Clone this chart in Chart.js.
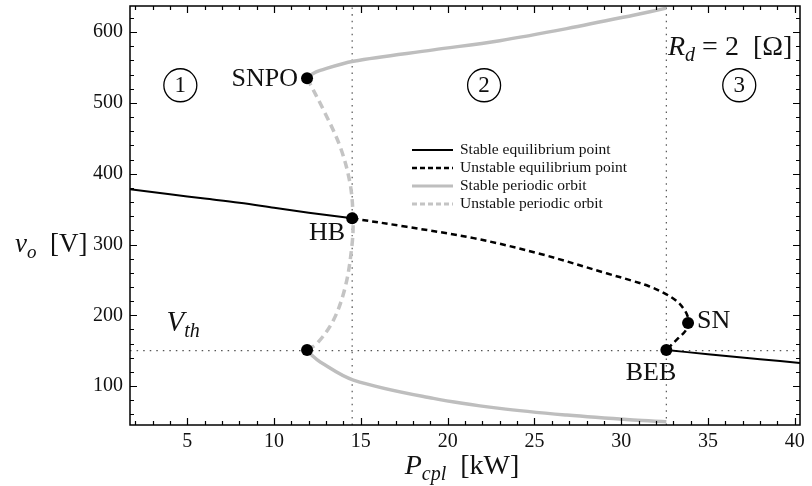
<!DOCTYPE html>
<html>
<head>
<meta charset="utf-8">
<script src="https://cdn.jsdelivr.net/npm/chart.js@4.4.1/dist/chart.umd.min.js"></script>
<style>
  html, body { margin: 0; padding: 0; background: #fff; }
  canvas { display: block; }
</style>
</head>
<body>
<canvas id="bif" width="812" height="486"></canvas>
<script>
// axis ranges and ticks
const xMin = 1.7, xMax = 40.3;
const yMin = 45, yMax = 637;
const xTicks = [5, 10, 15, 20, 25, 30, 35, 40];
const yTicks = [100, 200, 300, 400, 500, 600];

// stable equilibrium point (left and right branches)
const stableEqLeftP = [1.7, 4, 6, 8, 10, 12, 14.5];
const stableEqLeftV = [378, 371, 365, 359, 352, 345, 337];
const stableEqRightP = [32.6, 35, 38, 40.3];
const stableEqRightV = [151, 145, 138, 132.5];

// unstable equilibrium point
const unstableEqP = [14.5, 17.65, 21.5, 25.3, 29.2, 30.6, 31.6, 32.5, 33.2, 33.6, 33.82, 33.86, 33.7, 33.3, 32.6];
const unstableEqV = [337, 325, 309, 287, 259, 249, 241, 231, 220, 209, 199, 189, 178, 168, 151];

// stable periodic orbit (max / min of the orbit)
const stablePoUpperP = [11.9, 12.2, 12.66, 14.57, 19.18, 23.0, 26.86, 30.7, 32.6];
const stablePoUpperV = [535, 541, 546, 559, 575, 588, 605, 624, 634];
const stablePoLowerP = [11.9, 12.2, 12.66, 14.57, 19.18, 23.0, 26.86, 30.7, 32.6];
const stablePoLowerV = [151, 143, 134, 108.5, 82.6, 68.5, 59, 52, 49.6];

// unstable periodic orbit
const unstablePoP = [11.9, 12.85, 13.81, 14.38, 14.55, 14.48, 14.1, 13.42, 12.47, 11.9];
const unstablePoV = [535, 490, 438, 386, 337, 297, 240, 193, 160, 151];

// bifurcation points: SNPO, HB, lower SNPO, SN, BEB
const bifNames = ['SNPO', 'HB', '', 'SN', 'BEB'];
const bifP = [11.9, 14.5, 11.9, 33.85, 32.6];
const bifV = [535, 337, 151, 189, 151];

// reference lines
const hbP = 14.5, bebP = 32.6, vTh = 150;

// regions
const regionNames = ['1', '2', '3'];
const regionP = [4.6, 22.1, 36.8];
const regionV = [525, 525, 525];

const pts = (xs, ys) => xs.map((x, i) => ({ x, y: ys[i] }));
const serif = '"Liberation Serif", "DejaVu Serif", serif';
const ink = '#111';
const grayLine = '#bebebe';

const line = (label, xs, ys, color, width, dash, legend) => ({
  label, legend, data: pts(xs, ys), borderColor: color, borderWidth: width,
  borderDash: dash || [], pointRadius: 0, fill: false, tension: 0.35, showLine: true
});

const datasets = [
  { label: 'points', data: pts(bifP, bifV), showLine: false, pointRadius: 6,
    backgroundColor: '#000', borderWidth: 0, pointHoverRadius: 6 },
  line('Stable equilibrium point', stableEqLeftP, stableEqLeftV, '#000', 2, null, true),
  line('Stable equilibrium point', stableEqRightP, stableEqRightV, '#000', 2, null, false),
  line('Unstable equilibrium point', unstableEqP, unstableEqV, '#000', 2.5, [6, 4], true),
  line('Stable periodic orbit', stablePoUpperP, stablePoUpperV, grayLine, 3.5, null, true),
  line('Stable periodic orbit', stablePoLowerP, stablePoLowerV, grayLine, 3.5, null, false),
  line('Unstable periodic orbit', unstablePoP, unstablePoV, '#c4c4c4', 3.5, [8, 5], true),
  line('HB line', [hbP, hbP], [yMin, yMax], '#555', 1.2, [1.5, 5], false),
  line('BEB line', [bebP, bebP], [yMin, yMax], '#555', 1.2, [1.5, 5], false),
  line('Vth line', [xMin, xMax], [vTh, vTh], '#555', 1.2, [1.5, 5], false)
];

// text with italic / subscript pieces; parts: [text, style] with style 'r', 'i', 'si'
function drawRich(ctx, parts, x, y, size, align) {
  const fontFor = s => (s === 'r' ? '' : 'italic ') + Math.round(s === 'si' ? size * 0.7 : size) + 'px ' + serif;
  const widths = parts.map(([t, s]) => { ctx.font = fontFor(s); return ctx.measureText(t).width; });
  const total = widths.reduce((a, b) => a + b, 0);
  let cx = align === 'right' ? x - total : align === 'center' ? x - total / 2 : x;
  ctx.textAlign = 'left';
  ctx.textBaseline = 'alphabetic';
  parts.forEach(([t, s], i) => {
    ctx.font = fontFor(s);
    ctx.fillText(t, cx, s === 'si' ? y + size * 0.22 : y);
    cx += widths[i];
  });
}

const decor = {
  id: 'decor',
  afterDatasetsDraw(chart) {
    const { ctx, chartArea: a, scales: { x, y } } = chart;
    ctx.save();
    ctx.fillStyle = ink;
    ctx.strokeStyle = '#000';

    // frame
    ctx.lineWidth = 1.5;
    ctx.strokeRect(a.left, a.top, a.right - a.left, a.bottom - a.top);

    // inward ticks on all sides
    ctx.lineWidth = 1.2;
    ctx.beginPath();
    for (let v = Math.ceil(xMin); v <= xMax; v += 1) {
      const len = v % 5 === 0 ? 7 : 4;
      const px = Math.round(x.getPixelForValue(v)) + 0.5;
      ctx.moveTo(px, a.bottom); ctx.lineTo(px, a.bottom - len);
      ctx.moveTo(px, a.top); ctx.lineTo(px, a.top + len);
    }
    for (let v = Math.ceil(yMin / 20) * 20; v <= yMax; v += 20) {
      const len = v % 100 === 0 ? 7 : 4;
      const py = Math.round(y.getPixelForValue(v)) + 0.5;
      ctx.moveTo(a.left, py); ctx.lineTo(a.left + len, py);
      ctx.moveTo(a.right, py); ctx.lineTo(a.right - len, py);
    }
    ctx.stroke();

    // axis titles
    drawRich(ctx, [['v', 'i'], ['o', 'si'], ['  [V]', 'r']], 15, 252, 27, 'left');
    drawRich(ctx, [['P', 'i'], ['cpl', 'si'], ['  [kW]', 'r']], 462, 474, 28, 'center');

    // bifurcation labels
    const bx = i => x.getPixelForValue(bifP[i]);
    const by = i => y.getPixelForValue(bifV[i]);
    ctx.font = '26px ' + serif;
    ctx.textBaseline = 'middle';
    ctx.textAlign = 'right';
    ctx.fillText(bifNames[0], bx(0) - 9, by(0) + 1);
    ctx.fillText(bifNames[1], bx(1) - 7, by(1) + 15);
    ctx.textAlign = 'left';
    ctx.fillText(bifNames[3], bx(3) + 9, by(3) - 2);
    ctx.textAlign = 'right';
    ctx.fillText(bifNames[4], bx(4) + 10, by(4) + 23);

    // V_th and R_d
    drawRich(ctx, [['V', 'i'], ['th', 'si']], x.getPixelForValue(3.8), y.getPixelForValue(vTh) - 20, 29, 'left');
    drawRich(ctx, [['R', 'i'], ['d', 'si'], [' = 2  [\u03a9]', 'r']], 668, 55, 28, 'left');

    // region markers
    ctx.lineWidth = 1.3;
    regionNames.forEach((n, i) => {
      const cx = x.getPixelForValue(regionP[i]);
      const cy = y.getPixelForValue(regionV[i]);
      ctx.beginPath();
      ctx.arc(cx, cy, 16.5, 0, Math.PI * 2);
      ctx.stroke();
      ctx.font = '23px ' + serif;
      ctx.textAlign = 'center';
      ctx.textBaseline = 'middle';
      ctx.fillText(n, cx, cy + 1);
    });

    // legend
    const lx = 412, ly = 150, step = 18, lw = 41;
    let row = 0;
    chart.data.datasets.forEach(ds => {
      if (!ds.legend) return;
      const yy = ly + row * step;
      ctx.beginPath();
      ctx.strokeStyle = ds.borderColor;
      ctx.lineWidth = Math.min(ds.borderWidth, 3);
      ctx.setLineDash(ds.borderDash.length ? [5, 3] : []);
      ctx.moveTo(lx, yy); ctx.lineTo(lx + lw, yy);
      ctx.stroke();
      ctx.setLineDash([]);
      ctx.font = '15.5px ' + serif;
      ctx.textAlign = 'left';
      ctx.textBaseline = 'middle';
      ctx.fillStyle = ink;
      ctx.fillText(ds.label, lx + lw + 7, yy);
      row++;
    });
    ctx.restore();
  }
};

new Chart(document.getElementById('bif').getContext('2d'), {
  type: 'line',
  data: { datasets },
  options: {
    responsive: false,
    animation: false,
    events: [],
    layout: { padding: { left: 0, right: 12, top: 6, bottom: 0 } },
    plugins: { legend: { display: false }, tooltip: { enabled: false } },
    scales: {
      x: {
        type: 'linear', min: xMin, max: xMax,
        grid: { display: false, drawTicks: false }, border: { display: false },
        afterBuildTicks: s => { s.ticks = xTicks.map(value => ({ value })); },
        afterFit: s => { s.height = 61; s.paddingLeft = 0; s.paddingRight = 0; },
        ticks: { color: ink, padding: 5, maxRotation: 0, font: { family: serif, size: 20 } }
      },
      y: {
        type: 'linear', min: yMin, max: yMax,
        grid: { display: false, drawTicks: false }, border: { display: false },
        afterBuildTicks: s => { s.ticks = yTicks.map(value => ({ value })); },
        afterFit: s => { s.width = 130; s.paddingTop = 0; s.paddingBottom = 0; },
        ticks: { color: ink, padding: 7, font: { family: serif, size: 20 } }
      }
    }
  },
  plugins: [decor]
});
</script>
</body>
</html>
